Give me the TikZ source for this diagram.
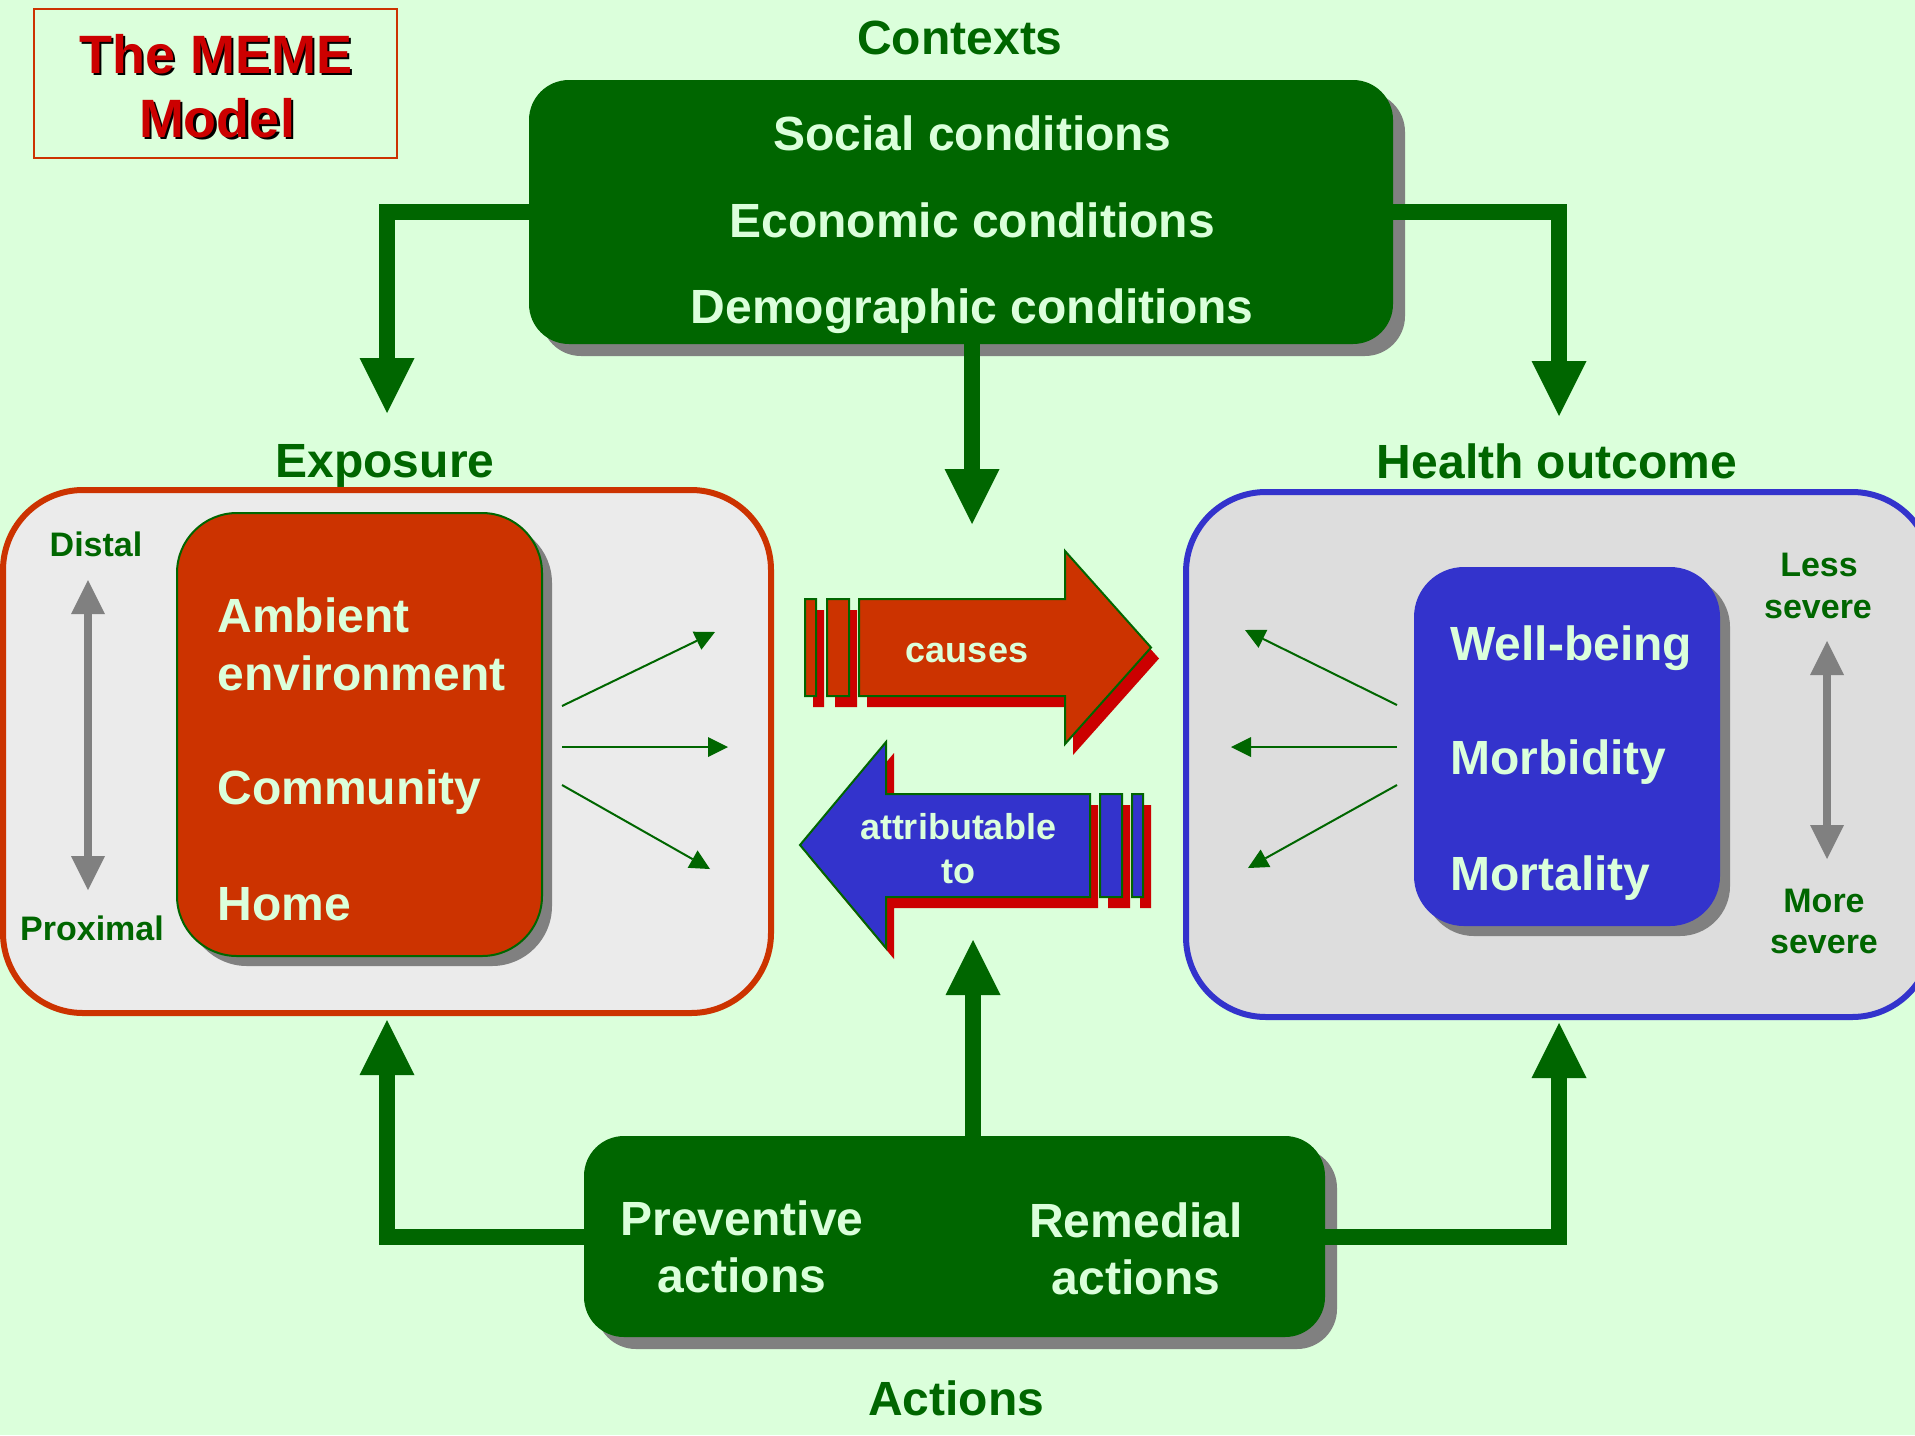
\documentclass[tikz,border=0pt]{standalone}
\usepackage{fontspec}
\setmainfont{Liberation Sans}
\usetikzlibrary{positioning, calc, arrows.meta, shadows}

\definecolor{mint}{HTML}{DBFFDB}
\definecolor{leaf}{HTML}{006600}
\definecolor{rust}{HTML}{CC3300}
\definecolor{royal}{HTML}{3333CC}
\definecolor{crimson}{HTML}{CC0000}
\definecolor{ashen}{HTML}{808080}
\definecolor{paleL}{HTML}{EBEBEB}
\definecolor{paleR}{HTML}{DDDDDD}

\tikzstyle{Big} = [font=\fontsize{24}{29}\selectfont\bfseries, inner sep=0pt]
\tikzstyle{Mid} = [font=\fontsize{18}{22}\selectfont\bfseries, inner sep=0pt, text=mint, anchor=base]
\tikzstyle{Small} = [font=\fontsize{17}{21}\selectfont\bfseries, inner sep=0pt, text=leaf, anchor=base]
\tikzstyle{Head} = [Big, text=leaf, anchor=base]
\tikzstyle{Inner} = [Big, text=mint, anchor=base west]
\tikzstyle{Centre} = [Big, text=mint, anchor=base]
\tikzstyle{TitleTxt} = [font=\fontsize{27}{32}\selectfont\bfseries, inner sep=0pt, anchor=base]
\tikzstyle{Panel} = [rectangle, fill=leaf, rounded corners=20pt,
drop shadow={shadow xshift=6pt, shadow yshift=-6pt, fill=ashen, opacity=1}]
\tikzstyle{Thick} = [draw=leaf, line width=8pt,
-{Triangle[length=27.5pt, width=27.5pt, line width=0pt]}]
\tikzstyle{Thin} = [draw=leaf, line width=1pt,
-{Triangle[length=10pt, width=10pt, line width=0pt]}]
\tikzstyle{Scale} = [draw=ashen, line width=4pt,
{Triangle[length=17pt, width=17pt, line width=0pt]}-{Triangle[length=17pt, width=17pt, line width=0pt]}]

\begin{document}
\begin{tikzpicture}[x=0.5pt, y=-0.5pt]
    \fill[mint] (0,0) rectangle (1915,1435);
    \useasboundingbox (0,0) rectangle (1915,1435);

    \node [draw=rust, line width=1pt, minimum width=181.5pt, minimum height=74.5pt] (title) at (215.5,83.5) {};
    \node [TitleTxt, text=black] (t1s) at (218.5,75.5) {The MEME};
    \node [TitleTxt, text=crimson] (t1) at (216,73) {The MEME};
    \node [TitleTxt, text=black] (t2s) at (219.5,139.5) {Model};
    \node [TitleTxt, text=crimson] (t2) at (217,137) {Model};

    \node [Panel, minimum width=432pt, minimum height=132pt] (ctx) at (961,212) {};
    \node [Centre] (soc) at (972,150) {Social conditions};
    \node [Centre] (eco) at (972,237) {Economic conditions};
    \node [Centre] (dem) at (972,323) {Demographic conditions};
    \node [Head] (ctxhead) at (960,54) {Contexts};

    \node [draw=rust, line width=3pt, fill=paleL, rounded corners=40pt, minimum width=384pt, minimum height=261.5pt] (expbox) at (387,751.5) {};
    \node [draw=leaf, line width=1pt, fill=rust, rounded corners=30pt, minimum width=182.5pt, minimum height=221.5pt,
    drop shadow={shadow xshift=5pt, shadow yshift=-5pt, fill=ashen, opacity=1}] (expin) at (359.5,734.5) {};
    \node [Inner] (amb) at (217,632) {Ambient};
    \node [Inner] (env) at (217,690) {environment};
    \node [Inner] (com) at (217,804) {Community};
    \node [Inner] (home) at (217,920) {Home};
    \node [Small] (distal) at (96,556) {Distal};
    \node [Small] (prox) at (92,940) {Proximal};
    \node [Head] (exphead) at (385,477) {Exposure};

    \node [draw=royal, line width=3pt, fill=paleR, rounded corners=40pt, minimum width=373pt, minimum height=262.5pt] (hobox) at (1559,754.5) {};
    \node [fill=royal, rounded corners=25pt, minimum width=153pt, minimum height=179.5pt,
    drop shadow={shadow xshift=5pt, shadow yshift=-5pt, fill=ashen, opacity=1}] (hoin) at (1567,746.5) {};
    \node [Inner] (well) at (1450,660) {Well-being};
    \node [Inner] (morb) at (1450,774) {Morbidity};
    \node [Inner] (mort) at (1450,890) {Mortality};
    \node [Small] (less) at (1819,576) {Less};
    \node [Small] (lsev) at (1818,618) {severe};
    \node [Small] (more) at (1824,912) {More};
    \node [Small] (msev) at (1824,953) {severe};
    \node [Head] (hohead) at (1557,478) {Health outcome};

    \node [Panel, minimum width=370.5pt, minimum height=100.5pt] (act) at (954.5,1236.5) {};
    \node [Centre] (prev) at (742,1235) {Preventive};
    \node [Centre] (prevb) at (742,1292) {actions};
    \node [Centre] (rem) at (1136,1237) {Remedial};
    \node [Centre] (remb) at (1136,1294) {actions};
    \node [Head] (acthead) at (956,1415) {Actions};

    \fill[crimson, shift={(8,11)}] (805,599) rectangle (816,696) (827,599) rectangle (849,696)
    (859,599) -- (1065,599) -- (1065,551) -- (1151,647.5) -- (1065,744) -- (1065,696) -- (859,696) -- cycle;
    \draw[leaf, line width=1pt, fill=rust] (805,599) rectangle (816,696) (827,599) rectangle (849,696)
    (859,599) -- (1065,599) -- (1065,551) -- (1151,647.5) -- (1065,744) -- (1065,696) -- (859,696) -- cycle;
    \node [Mid] (causes) at (967,662) {causes};

    \fill[crimson, shift={(8,11)}] (800,845) -- (886,742) -- (886,794) -- (1090,794) -- (1090,897) -- (886,897) -- (886,948) -- cycle
    (1100,794) rectangle (1122,897) (1132,794) rectangle (1143,897);
    \draw[leaf, line width=1pt, fill=royal] (800,845) -- (886,742) -- (886,794) -- (1090,794) -- (1090,897) -- (886,897) -- (886,948) -- cycle
    (1100,794) rectangle (1122,897) (1132,794) rectangle (1143,897);
    \node [Mid] (attr) at (958,839) {attributable};
    \node [Mid] (attrto) at ([yshift=-22pt]attr.base) {to};

    \coordinate (causetop) at (972,524);
    \coordinate (attrbot) at (973,940);
    \draw[Thick, shorten >=37pt] (ctx.west) -| (expbox.north);
    \draw[Thick, shorten >=36.5pt] (ctx.east) -| (hobox.north);
    \draw[Thick] (ctx.south -| causetop) -- (causetop);
    \draw[Thick, shorten >=2pt] (act.west) -| (expbox.south);
    \draw[Thick, shorten >=1.5pt] (act.east) -| (hobox.south);
    \draw[Thick] (act.north -| attrbot) -- (attrbot);

    \coordinate (ea1) at (562,706);
    \coordinate (ea2) at (562,747);
    \coordinate (ea3) at (562,785);
    \coordinate (eb1) at (715,632);
    \coordinate (eb2) at (728,747);
    \coordinate (eb3) at (710,869);
    \draw[Thin] (ea1) -- (eb1);
    \draw[Thin] (ea2) -- (eb2);
    \draw[Thin] (ea3) -- (eb3);
    \coordinate (ha1) at (1397,705);
    \coordinate (ha2) at (1397,747);
    \coordinate (ha3) at (1397,785);
    \coordinate (hb1) at (1245,630);
    \coordinate (hb2) at (1231,747);
    \coordinate (hb3) at (1248,868);
    \draw[Thin] (ha1) -- (hb1);
    \draw[Thin] (ha2) -- (hb2);
    \draw[Thin] (ha3) -- (hb3);

    \coordinate (dtop) at (88,580);
    \coordinate (dbot) at (88,890);
    \draw[Scale] (dtop) -- (dbot);
    \coordinate (stop) at (1827,641);
    \coordinate (sbot) at (1827,859);
    \draw[Scale] (stop) -- (sbot);
\end{tikzpicture}
\end{document}
